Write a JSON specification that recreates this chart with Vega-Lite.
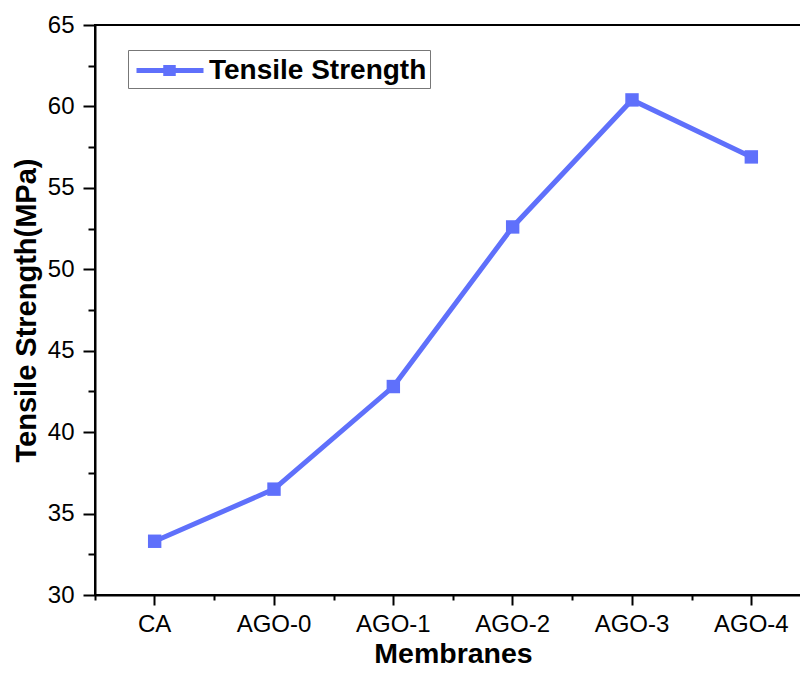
{
  "$schema": "https://vega.github.io/schema/vega-lite/v6.json",
  "autosize": "none",
  "width": 716,
  "height": 570,
  "padding": {"left": 95, "top": 25, "right": 0, "bottom": 82},
  "background": "white",
  "config": {
    "font": "Liberation Sans",
    "view": {"stroke": "black", "strokeWidth": 2},
    "axis": {"grid": false, "domainColor": "black", "domainWidth": 2, "tickColor": "black", "tickWidth": 2, "labelColor": "black", "titleColor": "black", "labelFont": "Liberation Sans", "titleFont": "Liberation Sans"}
  },
  "data": {"values": [
    {"Membrane": "CA", "TS": 33.3},
    {"Membrane": "AGO-0", "TS": 36.5},
    {"Membrane": "AGO-1", "TS": 42.8},
    {"Membrane": "AGO-2", "TS": 52.6},
    {"Membrane": "AGO-3", "TS": 60.4},
    {"Membrane": "AGO-4", "TS": 56.9}
  ]},
  "layer": [
    {
      "mark": {"type": "line", "strokeWidth": 5},
      "encoding": {
        "x": {"field": "Membrane", "type": "nominal", "sort": null, "scale": {"paddingInner": 0, "paddingOuter": 0},
          "axis": {"orient": "bottom", "title": "Membranes", "labelAngle": 0, "labelFontSize": 24, "titleFontSize": 28.5, "titleFontWeight": "bold", "tickSize": 10, "labelPadding": 7, "titlePadding": 3}},
        "y": {"field": "TS", "type": "quantitative", "scale": {"domain": [30, 65], "nice": false, "zero": false},
          "axis": {"orient": "left", "title": "Tensile Strength(MPa)", "values": [30, 35, 40, 45, 50, 55, 60, 65], "labelFontSize": 24, "titleFontSize": 29, "titleFontWeight": "bold", "tickSize": 12, "labelPadding": 9, "titlePadding": 6}},
        "color": {"datum": "Tensile Strength", "type": "nominal", "scale": {"range": ["#5f70fb"]},
          "legend": {"title": null, "orient": "none", "legendX": 33, "legendY": 25, "labelFontSize": 28, "labelFontWeight": "bold", "labelColor": "black", "labelLimit": 500, "strokeColor": "#777777", "padding": 3, "symbolType": "M-0.8,0L3.667,0M1.15,-0.2H1.65V0.2H1.15Z", "symbolSize": 900, "symbolStrokeWidth": 5, "symbolFillColor": "#5f70fb", "symbolStrokeColor": "#5f70fb", "labelOffset": 43}}
      }
    },
    {
      "mark": {"type": "point", "shape": "square", "filled": true, "size": 180, "opacity": 1},
      "encoding": {
        "x": {"field": "Membrane", "type": "nominal", "sort": null,
          "axis": {"orient": "bottom", "title": null, "labels": false, "domain": false, "tickBand": "extent", "tickSize": 5}},
        "y": {"field": "TS", "type": "quantitative",
          "axis": {"orient": "left", "title": null, "labels": false, "domain": false, "values": [32.5, 37.5, 42.5, 47.5, 52.5, 57.5, 62.5], "tickSize": 7}},
        "color": {"datum": "Tensile Strength", "type": "nominal"}
      }
    }
  ],
  "resolve": {"axis": {"x": "independent", "y": "independent"}}
}
